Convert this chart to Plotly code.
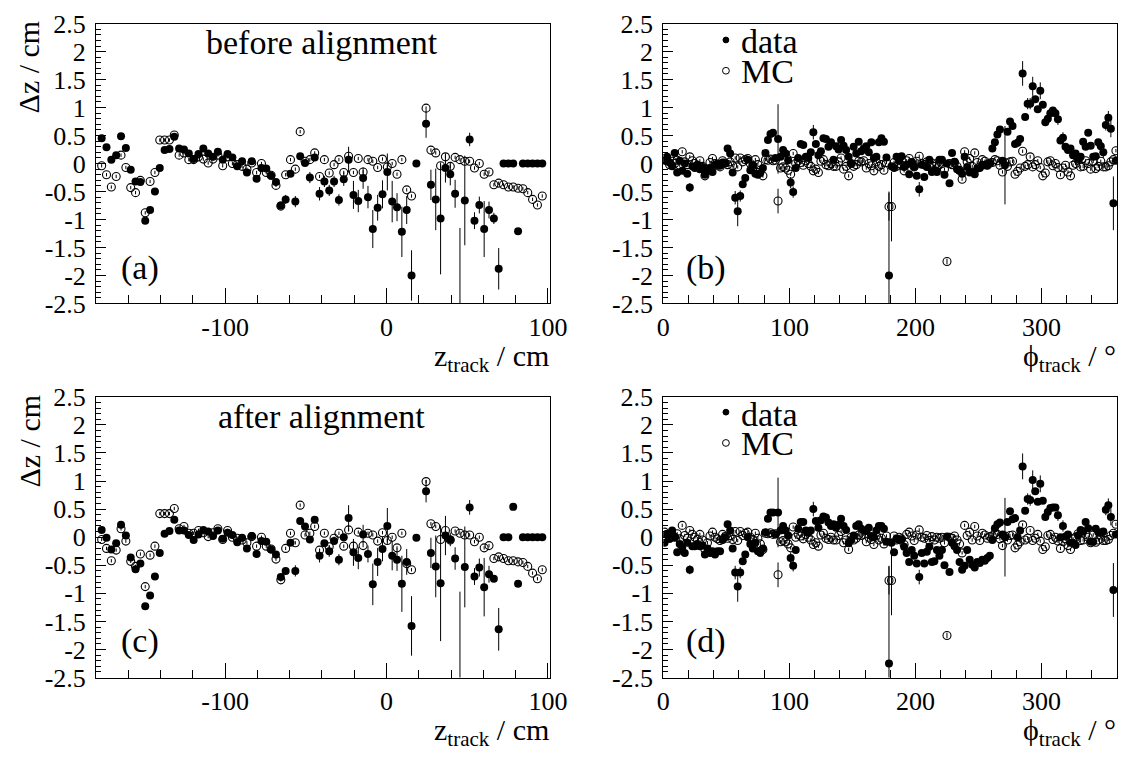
import numpy as np
import plotly.graph_objects as go

W, H = 1143, 758

# ---------------- data ----------------
# z_track bin centres (3 cm bins) and phi_track bin centres (2 deg bins)
z_centers = np.arange(-176.5, 97.0, 3.0)
phi_centers = np.arange(1.0, 360.0, 2.0)

# panel (a): data before alignment
dz_z_before = [0.45, 0.29, 0.07, 0.15, 0.49, 0.28, -0.11, -0.32, -0.33, -1.02,
               -0.83, -0.50, -0.08, 0.24, 0.26, 0.48, 0.27, 0.25, 0.18, 0.08,
               0.17, 0.27, 0.18, 0.12, 0.21, 0.07, 0.17, 0.11, -0.05, 0.04,
               -0.16, 0.04, -0.27, -0.08, -0.09, -0.22, -0.33, -0.75, -0.64, -0.18,
               -0.68, 0.13, 0.01, -0.25, 0.11, -0.54, -0.32, -0.48, -0.32, -0.65,
               -0.28, 0.07, -0.56, -0.67, -0.26, -0.60, -1.17, -0.79, -0.55, -0.15,
               -0.68, -0.78, -1.22, -0.83, -2.00, 0.00, None, 0.71, -0.38, -0.64,
               -0.98, -0.08, -0.19, -0.54, -3.50, -0.66, 0.43, -1.02, -0.74, -1.17,
               -0.83, -0.98, -1.88, 0.00, 0.00, 0.00, -1.21, 0.00, 0.00, 0.00,
               0.00, 0.00]
err_z_before = {38: 0.08, 40: 0.10, 43: 0.10, 45: 0.12, 46: 0.10, 47: 0.10, 48: 0.10,
                49: 0.10, 50: 0.12, 51: 0.23, 52: 0.25, 53: 0.20, 54: 0.19, 55: 0.20,
                56: 0.34, 57: 0.23, 58: 0.25, 59: 0.33, 60: 0.37, 61: 0.25, 62: 0.45,
                63: 0.25, 64: 0.45, 67: 0.25, 68: 0.27, 69: 0.55, 70: 1.00, 71: 0.26,
                72: 0.20, 73: 0.25, 74: 2.35, 75: 0.80, 76: 0.12, 77: 0.15, 78: 0.15,
                79: 0.50, 80: 0.15, 81: 0.10, 82: 0.37}

# panel (c): data after alignment
dz_z_after = [0.13, -0.01, -0.22, -0.11, 0.22, 0.03, -0.36, -0.57, -0.47, -1.23,
              -1.04, -0.70, -0.28, 0.06, 0.11, 0.31, 0.12, 0.12, 0.04, -0.05,
              0.05, 0.13, 0.10, 0.02, 0.12, -0.03, 0.08, 0.04, -0.09, -0.01,
              -0.20, 0.02, -0.30, -0.07, -0.08, -0.22, -0.31, -0.71, -0.60, -0.10,
              -0.60, 0.29, 0.19, -0.04, 0.31, -0.33, -0.11, -0.25, -0.07, -0.40,
              0.00, 0.34, -0.27, -0.37, 0.05, -0.30, -0.84, -0.44, -0.21, 0.20,
              -0.33, -0.40, -0.83, -0.44, -1.58, -0.01, None, 0.82, -0.28, -0.52,
              -0.82, 0.03, -0.04, -0.38, -3.50, -0.53, 0.53, -0.70, -0.54, -0.89,
              -0.66, -0.74, -1.64, 0.00, 0.00, 0.54, -0.83, 0.00, 0.00, 0.00,
              0.00, 0.00]
err_z_after = {40: 0.10, 45: 0.12, 47: 0.10, 49: 0.10, 51: 0.23, 52: 0.24, 53: 0.20,
               54: 0.17, 55: 0.15, 56: 0.37, 57: 0.25, 58: 0.22, 59: 0.32, 60: 0.26,
               61: 0.20, 62: 0.50, 63: 0.23, 64: 0.53, 67: 0.20, 68: 0.27, 69: 0.55,
               70: 1.03, 71: 0.35, 72: 0.12, 73: 0.20, 74: 2.53, 75: 0.72, 76: 0.13,
               77: 0.15, 78: 0.16, 79: 0.52, 80: 0.15, 82: 0.38}

# MC vs z (same in (a) and (c))
dz_z_mc = [-0.04, -0.20, -0.42, -0.23, 0.15, -0.07, -0.43, -0.52, -0.30, -0.88,
           -0.32, -0.16, 0.42, 0.42, 0.42, 0.51, 0.15, 0.19, 0.07, 0.07,
           0.12, 0.08, 0.01, 0.08, 0.15, -0.04, 0.12, 0.00, -0.02, -0.05,
           -0.10, 0.01, -0.16, 0.00, -0.16, -0.21, -0.39, -0.76, -0.20, 0.07,
           -0.10, 0.57, 0.04, 0.07, 0.19, -0.23, 0.07, -0.17, -0.02, 0.07,
           -0.16, 0.13, -0.16, 0.09, -0.15, 0.07, 0.04, -0.07, 0.08, -0.06,
           0.00, -0.19, 0.07, -0.47, -0.58, None, None, 0.99, 0.24, 0.19,
           -0.04, 0.12, -0.05, 0.11, 0.07, 0.04, 0.04, -0.08, 0.00, -0.19,
           -0.15, -0.38, -0.35, -0.38, -0.42, -0.42, -0.44, -0.45, -0.52, -0.64,
           -0.74, -0.58]

# panel (b): data vs phi before alignment
dz_phi_before = [0.05, 0.12, 0.02, -0.05, 0.19, -0.16, 0.05, -0.13, 0.00, -0.18,
                 -0.43, -0.05, -0.08, -0.02, -0.10, -0.06, -0.20, -0.13, -0.08, -0.15,
                 -0.02, 0.00, -0.04, 0.02, 0.00, 0.27, 0.18, -0.16, -0.61, -0.85,
                 -0.58, -0.37, -0.26, 0.07, -0.12, -0.03, -0.18, -0.20, -0.17, -0.08,
                 0.19, 0.42, 0.53, 0.55, 0.10, 0.44, 0.12, 0.24, 0.18, 0.06,
                 -0.34, -0.51, -0.08, 0.10, 0.35, 0.33, 0.12, 0.10, 0.20, 0.56,
                 0.35, 0.15, 0.22, 0.45, 0.44, 0.30, 0.38, 0.07, 0.31, 0.25,
                 0.42, 0.32, 0.24, 0.12, 0.00, 0.30, 0.18, 0.39, 0.22, 0.27,
                 0.31, 0.20, 0.38, 0.10, 0.12, 0.38, 0.45, 0.39, 0.11, -2.00,
                 -0.05, -0.08, 0.12, 0.05, 0.13, -0.06, -0.02, -0.19, 0.02, -0.06,
                 -0.22, -0.46, -0.02, -0.24, -0.06, 0.07, -0.15, -0.12, -0.15, 0.07,
                 0.07, -0.20, 0.00, -0.35, 0.19, 0.03, -0.10, -0.13, -0.18, 0.12,
                 -0.06, -0.16, -0.15, -0.19, -0.09, -0.08, -0.02, -0.03, -0.04, 0.00,
                 0.27, 0.38, 0.52, 0.61, 0.05, -0.03, 0.57, 0.75, 0.67, 0.35,
                 0.37, 0.44, 1.61, 0.83, 1.07, 1.07, 1.38, 1.15, 0.97, 1.30,
                 1.05, 0.74, 0.80, 0.90, 0.95, 0.90, 0.79, 0.41, 0.46, 0.30,
                 0.24, 0.27, 0.15, 0.18, 0.08, 0.12, 0.39, 0.30, 0.55, 0.32,
                 0.12, 0.13, 0.38, 0.31, 0.20, 0.69, 0.82, 0.62, -0.71, 0.05]
err_phi_before = {10: 0.08, 28: 0.12, 29: 0.27, 30: 0.10, 45: 0.62, 50: 0.10, 51: 0.10,
                  59: 0.13, 89: 1.50, 101: 0.13, 135: 0.70, 142: 0.22, 144: 0.10,
                  145: 0.10, 146: 0.17, 149: 0.15, 152: 0.10, 156: 0.10, 158: 0.10,
                  174: 0.10, 175: 0.10, 176: 0.12, 177: 0.15, 178: 0.48}

# panel (d): data vs phi after alignment
dz_phi_after = [-0.10, 0.05, -0.03, 0.12, 0.00, -0.27, -0.12, -0.18, -0.28, -0.10,
                -0.58, -0.16, -0.16, -0.12, -0.16, -0.15, -0.31, -0.20, -0.28, -0.25,
                -0.31, -0.25, -0.25, -0.05, 0.00, 0.23, 0.12, -0.20, -0.63, -0.88,
                -0.63, -0.43, -0.31, 0.00, -0.12, -0.20, -0.10, -0.25, -0.28, -0.20,
                0.09, 0.33, 0.44, 0.44, 0.05, 0.44, 0.12, 0.20, 0.12, 0.03,
                -0.37, -0.51, -0.23, 0.15, 0.27, 0.27, 0.12, 0.08, 0.12, 0.50,
                0.29, 0.17, 0.30, 0.37, 0.35, 0.26, 0.20, 0.23, 0.17, 0.22,
                0.33, 0.20, 0.13, -0.11, -0.05, 0.03, 0.20, 0.23, 0.15, 0.12,
                0.11, 0.17, 0.02, 0.00, 0.12, 0.20, 0.20, 0.15, -0.08, -2.25,
                -0.10, -0.27, -0.03, -0.05, -0.04, -0.17, -0.28, -0.44, -0.23, -0.33,
                -0.47, -0.71, -0.28, -0.47, -0.26, -0.17, -0.44, -0.43, -0.23, -0.33,
                -0.23, -0.50, 0.01, -0.62, -0.10, -0.16, -0.23, -0.44, -0.58, -0.51,
                -0.23, -0.40, -0.49, -0.54, -0.44, -0.46, -0.40, -0.42, -0.37, -0.33,
                -0.05, 0.16, 0.23, 0.26, 0.05, 0.00, 0.27, 0.46, 0.32, 0.34,
                0.00, 0.12, 1.26, 0.47, 0.68, 0.66, 1.02, 0.82, 0.63, 0.95,
                0.65, 0.36, 0.45, 0.52, 0.53, 0.53, 0.39, 0.00, 0.20, 0.01,
                0.05, -0.10, -0.10, -0.14, 0.03, 0.13, 0.10, 0.27, 0.16, -0.08,
                -0.08, 0.15, 0.09, 0.08, 0.10, 0.49, 0.57, 0.36, -0.94, 0.05]
err_phi_after = {10: 0.08, 28: 0.12, 29: 0.27, 30: 0.10, 45: 0.62, 50: 0.10, 51: 0.10,
                 59: 0.13, 89: 1.74, 101: 0.13, 135: 0.70, 142: 0.23, 144: 0.10,
                 145: 0.10, 146: 0.17, 149: 0.15, 152: 0.10, 156: 0.10, 158: 0.10,
                 175: 0.10, 176: 0.12, 177: 0.15, 178: 0.48}

# MC vs phi (same in (b) and (d))
dz_phi_mc = [0.09, 0.05, -0.02, 0.04, 0.00, 0.06, -0.03, 0.21, 0.03, -0.02,
             0.12, 0.05, 0.00, -0.04, 0.05, -0.05, -0.22, -0.10, 0.02, 0.09,
             0.00, -0.03, -0.06, 0.05, 0.01, -0.02, 0.03, -0.04, 0.10, -0.06,
             0.10, 0.03, 0.07, 0.09, 0.00, -0.04, 0.07, -0.02, -0.12, -0.22,
             0.07, 0.06, 0.08, 0.05, 0.06, -0.67, -0.08, -0.06, -0.08, -0.12,
             -0.19, 0.18, 0.00, 0.05, 0.02, -0.03, 0.05, 0.00, -0.05, -0.13,
             -0.10, -0.16, 0.04, 0.07, -0.02, -0.04, 0.00, -0.05, -0.05, 0.03,
             0.10, -0.10, -0.05, -0.22, 0.00, -0.05, -0.02, 0.04, 0.03, 0.05,
             -0.08, 0.00, -0.04, -0.13, 0.03, -0.05, -0.02, -0.12, 0.02, -0.77,
             -0.77, 0.02, -0.05, 0.00, -0.03, -0.13, 0.05, 0.09, 0.02, -0.06,
             0.04, 0.13, 0.00, -0.02, 0.03, -0.06, 0.01, -0.05, 0.00, -0.02,
             0.00, -0.10, -1.75, 0.00, -0.02, 0.02, -0.05, -0.12, -0.28, 0.21,
             0.03, 0.09, -0.05, 0.19, 0.02, -0.06, 0.07, 0.04, -0.02, 0.01,
             0.02, 0.07, 0.05, -0.03, -0.15, 0.02, -0.05, 0.03, 0.04, -0.19,
             -0.14, -0.08, 0.22, -0.05, -0.02, 0.12, -0.06, -0.02, 0.05, -0.07,
             -0.22, -0.17, 0.03, 0.05, -0.04, 0.00, -0.07, -0.20, -0.08, -0.03,
             -0.15, -0.22, -0.03, 0.00, 0.06, -0.06, -0.05, 0.05, 0.00, -0.10,
             0.04, -0.09, -0.05, 0.04, -0.06, -0.06, -0.04, 0.03, 0.07, 0.23]
err_phi_mc = {45: 0.22, 89: 0.25, 90: 0.62, 112: 0.05}

# tick labels
y_tickvals = [2.5, 2, 1.5, 1, 0.5, 0, -0.5, -1, -1.5, -2, -2.5]
y_ticktext = ["2.5", "2", "1.5", "1", "0.5", "0", "-0.5", "-1", "-1.5", "-2", "-2.5"]
z_tickvals = [-100, 0, 100]
z_ticktext = ["-100", "0", "100"]
phi_tickvals = [0, 100, 200, 300]
phi_ticktext = ["0", "100", "200", "300"]


def errs(n, exceptions, default):
    return [exceptions.get(i, default) for i in range(n)]


# ---------------- figure ----------------
FONT = "Liberation Serif, Times New Roman, Times, serif"
MSIZE = 8
fig = go.Figure()


def add_panel(xs, data, data_err, mc, mc_err, xa, ya):
    fig.add_trace(go.Scatter(
        x=xs, y=data, mode="markers", name="data",
        marker=dict(symbol="circle", size=MSIZE, color="black"),
        error_y=dict(type="data", array=data_err, color="black", thickness=1, width=0),
        xaxis=xa, yaxis=ya, showlegend=False))
    fig.add_trace(go.Scatter(
        x=xs, y=mc, mode="markers", name="MC",
        marker=dict(symbol="circle-open", size=MSIZE, color="black",
                    line=dict(width=1.1, color="black")),
        error_y=dict(type="data", array=mc_err, color="black", thickness=1, width=0),
        xaxis=xa, yaxis=ya, showlegend=False))


nz, nphi = len(z_centers), len(phi_centers)
add_panel(z_centers, dz_z_before, errs(nz, err_z_before, 0.05), dz_z_mc, errs(nz, {}, 0.03), "x", "y")
add_panel(phi_centers, dz_phi_before, errs(nphi, err_phi_before, 0.05), dz_phi_mc,
          errs(nphi, err_phi_mc, 0.03), "x2", "y2")
add_panel(z_centers, dz_z_after, errs(nz, err_z_after, 0.05), dz_z_mc, errs(nz, {}, 0.03), "x3", "y3")
add_panel(phi_centers, dz_phi_after, errs(nphi, err_phi_after, 0.05), dz_phi_mc,
          errs(nphi, err_phi_mc, 0.03), "x4", "y4")


def px(xp):
    return xp / W


def py(yp):
    return 1 - yp / H


tickfont = dict(family=FONT, size=26, color="black")


def xaxis(dom, rng, tv, tt, minor_step, anchor):
    minors = [v for v in np.arange(rng[0] - rng[0] % minor_step, rng[1] + 1e-6, minor_step)
              if min(abs(v - t) for t in tv) > 1e-6 and rng[0] <= v <= rng[1]]
    return dict(domain=[px(dom[0]), px(dom[1])], range=rng, anchor=anchor,
                tickmode="array", tickvals=tv, ticktext=tt,
                ticks="inside", ticklen=15, tickwidth=1, tickcolor="black",
                minor=dict(tickmode="array", tickvals=minors, ticks="inside",
                           ticklen=8, tickwidth=1, tickcolor="black", showgrid=False),
                showline=True, linecolor="black", linewidth=1, mirror=True,
                showgrid=False, zeroline=False, tickfont=tickfont, ticklabelstandoff=0)


y_minor = [round(v, 2) for v in np.arange(-2.5, 2.51, 0.1)
           if min(abs(v - t) for t in y_tickvals) > 1e-6]


def yaxis(dom, anchor):
    return dict(domain=[py(dom[1]), py(dom[0])], range=[-2.5, 2.5], anchor=anchor,
                tickmode="array", tickvals=y_tickvals, ticktext=y_ticktext,
                ticks="inside", ticklen=10, tickwidth=1, tickcolor="black",
                minor=dict(tickmode="array", tickvals=y_minor, ticks="inside",
                           ticklen=5, tickwidth=1, tickcolor="black", showgrid=False),
                showline=True, linecolor="black", linewidth=1, mirror=True,
                showgrid=False, zeroline=False, tickfont=tickfont, ticklabelstandoff=4)


L1, R1, L2, R2 = 91, 555, 671, 1135
T1, B1, T2, B2 = 10, 301, 398, 690
z_range = [-180, 101.2]
phi_range = [0, 360]

fig.update_layout(
    width=W, height=H, margin=dict(l=0, r=0, t=0, b=0),
    paper_bgcolor="white", plot_bgcolor="white", showlegend=False,
    xaxis=xaxis((L1, R1), z_range, z_tickvals, z_ticktext, 20, "y"),
    yaxis=yaxis((T1, B1), "x"),
    xaxis2=xaxis((L2, R2), phi_range, phi_tickvals, phi_ticktext, 20, "y2"),
    yaxis2=yaxis((T1, B1), "x2"),
    xaxis3=xaxis((L1, R1), z_range, z_tickvals, z_ticktext, 20, "y3"),
    yaxis3=yaxis((T2, B2), "x3"),
    xaxis4=xaxis((L2, R2), phi_range, phi_tickvals, phi_ticktext, 20, "y4"),
    yaxis4=yaxis((T2, B2), "x4"),
)

ann = []
shapes = []


def text(t, xp, yp, size, xanchor="center", yanchor="middle", angle=0):
    ann.append(dict(text=t, x=px(xp), y=py(yp), xref="paper", yref="paper",
                    xanchor=xanchor, yanchor=yanchor, showarrow=False, textangle=angle,
                    font=dict(family=FONT, size=size, color="black")))


for off in (0, 389):
    text("Δz / cm", 22, 55 + off, 30, angle=-90)
    text("z<sub>track</sub> / cm", 556, 336 + off, 30, xanchor="right", yanchor="top")
    text("ϕ<sub>track</sub> / °", 1136, 336 + off, 30, xanchor="right", yanchor="top")

for loff in (0, 387):
    # legend (panels b and d)
    cx, cy1, cy2 = 735, 27 + loff, 59 + loff
    shapes.append(dict(type="circle", xref="paper", yref="paper",
                       x0=px(cx - 3), x1=px(cx + 3), y0=py(cy1 + 3), y1=py(cy1 - 3),
                       fillcolor="black", line=dict(color="black", width=1)))
    shapes.append(dict(type="circle", xref="paper", yref="paper",
                       x0=px(cx - 3.5), x1=px(cx + 3.5), y0=py(cy2 + 3.5), y1=py(cy2 - 3.5),
                       fillcolor="rgba(0,0,0,0)", line=dict(color="black", width=1)))
    text("data", 748, cy1 + 2, 34, xanchor="left")
    text("MC", 748, cy2 + 1, 34, xanchor="left")

text("(a)", 136, 264, 34)
text("(b)", 715, 264, 34)
text("(c)", 136, 652, 34)
text("(d)", 715, 652, 34)
text("before alignment", 322, 30, 34)
text("after alignment", 322, 419, 34)

fig.update_layout(annotations=ann, shapes=shapes)
fig.write_html("out.html")
